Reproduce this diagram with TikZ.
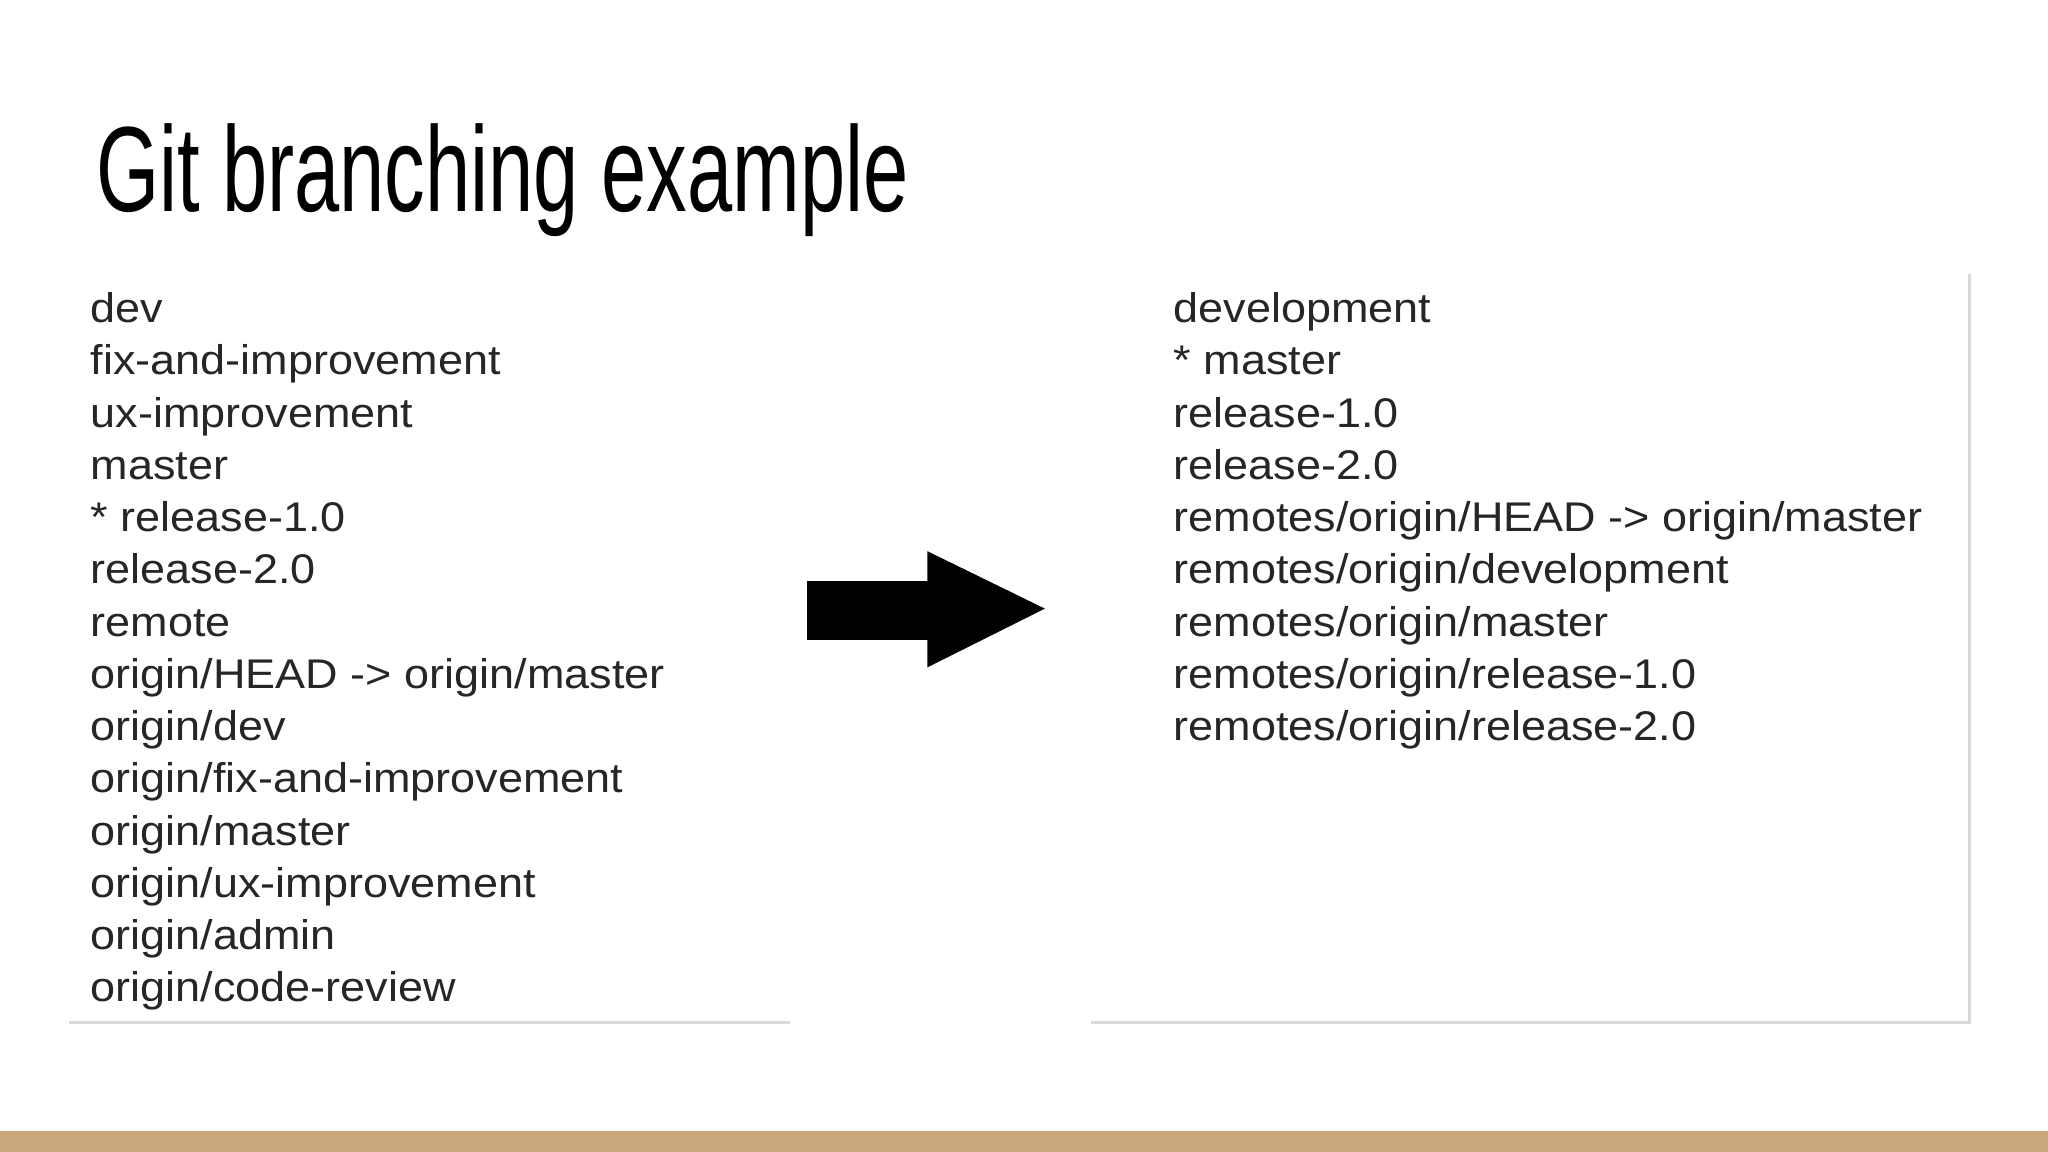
\documentclass[tikz,border=0pt]{standalone}
\usepackage{fontspec}
\setmainfont{Liberation Sans}
\begin{document}
\begin{tikzpicture}[x=0.013061cm,y=-0.013061cm,
  item/.style={anchor=base west,inner sep=0pt,font=\fontsize{11.8pt}{13pt}\selectfont,text=black!85},
  frame/.style={draw=black!15,line width=0.8pt}]
\useasboundingbox (0,0) rectangle (1568,882);
\fill[white] (0,0) rectangle (1568,882);
\fill[fill={rgb,255:red,200;green,167;blue,122}] (0,866) rectangle (1568,882);
\node[anchor=base west,inner sep=0pt,font=\fontsize{34.5pt}{40pt}\selectfont] (title) at (73,162) {\scalebox{0.67}[1]{Git branching example}};
\draw[frame] (53,783) -- (605,783);
\draw[frame] (835,783) -- (1508,783) -- (1508,210);
\foreach \t [count=\i from 0] in {dev,fix-and-improvement,ux-improvement,master,* release-1.0,release-2.0,remote,origin/HEAD -> origin/master,origin/dev,origin/fix-and-improvement,origin/master,origin/ux-improvement,origin/admin,origin/code-review}
  \node[item] (l\i) at (69,247+40*\i) {\scalebox{1.085}[1]{\t}};
\foreach \t [count=\i from 0] in {development,* master,release-1.0,release-2.0,remotes/origin/HEAD -> origin/master,remotes/origin/development,remotes/origin/master,remotes/origin/release-1.0,remotes/origin/release-2.0}
  \node[item] (r\i) at (898,247+40*\i) {\scalebox{1.085}[1]{\t}};
\fill[black] (618,445) -- (710,445) -- (710,422) -- (800,466) -- (710,511) -- (710,490) -- (618,490) -- cycle;
\end{tikzpicture}
\end{document}
